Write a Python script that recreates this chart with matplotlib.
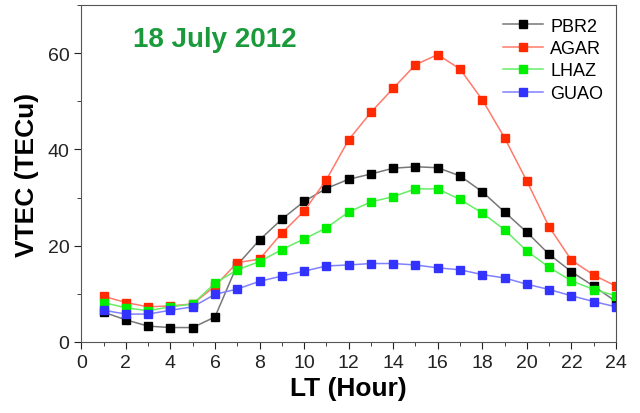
import numpy as np
import matplotlib
matplotlib.use("Agg")
from matplotlib import pyplot as plt
from matplotlib.ticker import MultipleLocator

plt.rcParams['font.family'] = ['Liberation Sans', 'DejaVu Sans']

hours = list(range(1, 25))
pbr2 = [6.2, 4.6, 3.3, 3.0, 3.0, 5.2, 16.0, 21.2, 25.5, 29.2, 31.9, 33.8,
        34.9, 36.1, 36.4, 36.2, 34.5, 31.2, 27.0, 22.8, 18.2, 14.6, 11.6, 8.4]
agar = [9.5, 8.2, 7.3, 7.5, 7.9, 11.6, 16.5, 17.2, 22.6, 27.2, 33.7, 42.0,
        47.7, 52.7, 57.6, 59.7, 56.7, 50.3, 42.4, 33.4, 23.9, 17.0, 13.9, 11.6]
lhaz = [8.2, 7.1, 6.5, 7.3, 7.9, 12.2, 15.0, 16.7, 19.2, 21.4, 23.7, 27.0,
        29.1, 30.2, 31.8, 31.8, 29.6, 26.8, 23.3, 18.9, 15.5, 12.7, 10.9, 9.6]
guao = [6.6, 5.8, 5.8, 6.6, 7.3, 9.9, 11.0, 12.6, 13.7, 14.7, 15.8, 16.0,
        16.3, 16.3, 16.0, 15.4, 15.0, 14.0, 13.3, 12.0, 10.9, 9.6, 8.4, 7.3]

series = [
    ("PBR2", pbr2, "#777777", "#000000"),
    ("AGAR", agar, "#ff7a6a", "#ff2a00"),
    ("LHAZ", lhaz, "#66ee66", "#00ee00"),
    ("GUAO", guao, "#8080ff", "#3333ff"),
]

fig = plt.figure(figsize=(6.4, 4.14), dpi=100)
ax = fig.add_axes([0.127, 0.1715, 0.8355, 0.814])

for name, vals, lc, mc in series:
    ax.plot(hours, vals, color=lc, linewidth=1.1, marker="s", markersize=5.5,
            markerfacecolor=mc, markeredgecolor=mc, label=name)

ax.set_xlim(0, 24)
ax.set_ylim(0, 70)
ax.xaxis.set_major_locator(MultipleLocator(2))
ax.xaxis.set_minor_locator(MultipleLocator(1))
ax.yaxis.set_major_locator(MultipleLocator(20))
ax.yaxis.set_minor_locator(MultipleLocator(10))
ax.tick_params(which="both", direction="out", labelsize=14, colors="#222222")
ax.tick_params(which="major", length=5)
ax.tick_params(which="minor", length=3)
for sp in ax.spines.values():
    sp.set_color("#555555")

ax.set_xlabel("LT (Hour)", fontsize=19, fontweight="bold", labelpad=4)
ax.set_ylabel("VTEC (TECu)", fontsize=19, fontweight="bold", labelpad=6)

ax.text(0.25, 0.9, "18 July 2012", transform=ax.transAxes, ha="center", va="center",
        fontsize=20, fontweight="bold", color="#1a9a3a")

ax.legend(loc="upper right", frameon=False, fontsize=13, handlelength=2.2,
          labelspacing=0.3, borderaxespad=0.3, handletextpad=0.4)

plt.savefig("out.png", dpi=100)
